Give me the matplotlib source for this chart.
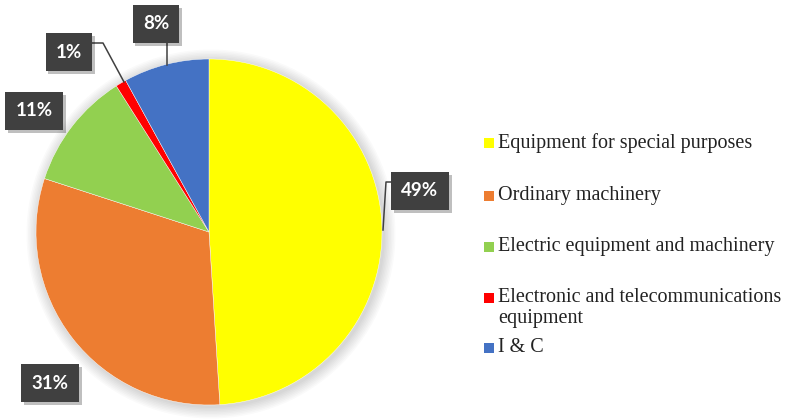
import matplotlib
matplotlib.use("Agg")
import matplotlib.pyplot as plt
import matplotlib.patheffects as pe
from matplotlib.patches import Circle, Rectangle

# data
categories = ["Equipment for special purposes", "Ordinary machinery",
              "Electric equipment and machinery",
              "Electronic and telecommunications\nequipment", "I & C"]
shares = [49, 31, 11, 1, 8]
colors = ["#FFFF00", "#ED7D31", "#92D050", "#FF0000", "#4472C4"]

# layout (pixel coords, y from top)
W, H = 803, 419
cx, cy, r = 209, 232, 173
label_pos = [(420, 191), (50, 383), (34, 111), (69, 52), (156, 24)]
leaders = [[(396, 182), (386, 182), (383, 230)],
           None,
           None,
           [(90, 43), (103, 43), (124, 82)],
           [(167, 42), (167, 65)]]
legend_y = [143, 196, 247, 298, 348]


def Y(y):
    return H - y


fig = plt.figure(figsize=(W / 100, H / 100), dpi=100)
ax = fig.add_axes([0, 0, 1, 1])

# soft shadow round the pie
for k in range(8):
    ax.add_patch(Circle((cx + 2, Y(cy) - 2), r + 1 + k * 1.5, color="#000000",
                        alpha=0.018, lw=0, zorder=0))

ax.pie(shares, colors=colors, startangle=90, counterclock=False,
       center=(cx, Y(cy)), radius=r, frame=True,
       wedgeprops=dict(linewidth=0.3, edgecolor="white"))

# data labels
for val, (lx, ly), pts in zip(shares, label_pos, leaders):
    if pts is not None:
        ax.plot([p[0] for p in pts], [Y(p[1]) for p in pts],
                color="#404040", lw=1.1, zorder=3)
    t = ax.text(lx, Y(ly), f"{val}%", fontsize=13.5, fontweight="bold",
                family="Lato", color="white", ha="center", va="center",
                bbox=dict(boxstyle="square,pad=0.55", fc="#404040", ec="none"),
                zorder=5)
    t.get_bbox_patch().set_path_effects(
        [pe.SimplePatchShadow(offset=(2, -2), shadow_rgbFace="black", alpha=0.25),
         pe.Normal()])

# legend
for name, col, yy in zip(categories, colors, legend_y):
    ax.add_patch(Rectangle((484, Y(yy) - 5), 10, 10, color=col, lw=0))
    ax.text(498, Y(yy) + 10, name, fontsize=14.5, family="Liberation Serif",
            color="#222222", ha="left", va="top", linespacing=1.15)

ax.set_xlim(0, W)
ax.set_ylim(0, H)
ax.set_aspect("auto")
ax.axis("off")

fig.savefig("out.png", dpi=100, facecolor="white")
